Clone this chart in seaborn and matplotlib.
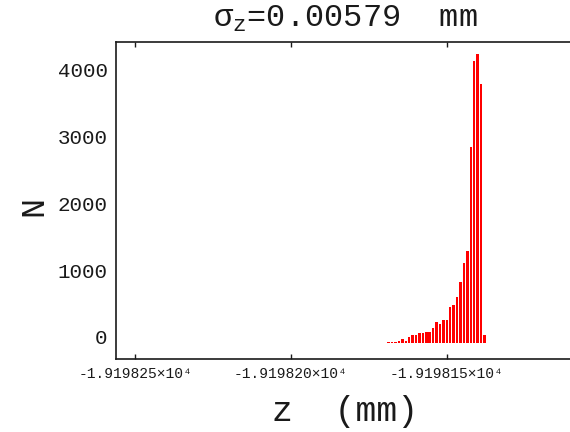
import numpy as np
import pandas as pd
import matplotlib
matplotlib.use("Agg")
import matplotlib.pyplot as plt
import matplotlib.transforms as mtransforms
import seaborn as sns

# Longitudinal bunch profile: bin centres (mm) and particle counts
z_centers = [
    -19198.1687, -19198.1676, -19198.1665, -19198.1654, -19198.1643,
    -19198.1632, -19198.1621, -19198.1610, -19198.1599, -19198.1588,
    -19198.1578, -19198.1567, -19198.1556, -19198.1545, -19198.1534,
    -19198.1523, -19198.1512, -19198.1501, -19198.1490, -19198.1479,
    -19198.1468, -19198.1457, -19198.1446, -19198.1435, -19198.1424,
    -19198.1413, -19198.1402, -19198.1391, -19198.1380,
]
counts = [
    20, 20, 20, 25, 55,
    35, 95, 115, 125, 145,
    145, 165, 165, 225, 315,
    285, 345, 340, 545, 565,
    685, 915, 1205, 1375, 2930,
    4220, 4330, 3880, 115,
]

x_tick_values = [-19198.25, -19198.20, -19198.15]
x_tick_labels = ["-1.919825×10⁴", "-1.919820×10⁴", "-1.919815×10⁴"]
y_tick_values = [0, 1000, 2000, 3000, 4000]
y_tick_labels = ["0", "1000", "2000", "3000", "4000"]

title_text = r"σ${}_{\mathrm{z}}$=0.00579  mm"
x_label = "z  (mm)"
y_label = "N"

df = pd.DataFrame({"z": z_centers, "n": counts})

sns.set_theme(style="white")
plt.rcParams["font.family"] = ["Liberation Mono", "DejaVu Sans Mono", "DejaVu Sans"]
plt.rcParams["mathtext.fontset"] = "custom"
plt.rcParams["mathtext.rm"] = "Liberation Mono"
plt.rcParams["mathtext.it"] = "Liberation Mono"

W, H = 570, 432
fig = plt.figure(figsize=(W / 100, H / 100), dpi=100)
# axes frame runs off the right side of the canvas
left_px, right_px, top_px, bottom_px = 116, 600, 42, 359
ax = fig.add_axes([left_px / W, 1 - bottom_px / H,
                   (right_px - left_px) / W, (bottom_px - top_px) / H])

bw = (z_centers[-1] - z_centers[0]) / (len(z_centers) - 1)
sns.histplot(data=df, x="z", weights="n", bins=len(z_centers),
             binrange=(z_centers[0] - bw / 2, z_centers[-1] + bw / 2),
             shrink=0.72, color="#ff0000", alpha=1.0, linewidth=0,
             edgecolor="none", ax=ax)

ax.set_xlim(-19198.25609, -19198.10096)
ax.set_ylim(-240, 4509)

ink = "#1a1a1a"
ax.set_xticks(x_tick_values)
ax.set_xticklabels(x_tick_labels, fontsize=10.5, color=ink)
ax.set_yticks(y_tick_values)
ax.set_yticklabels(y_tick_labels, fontsize=15, color=ink)
ax.tick_params(axis="x", direction="in", length=3.5, width=1.0,
               top=True, bottom=True, pad=6, colors=ink)
ax.tick_params(axis="y", length=0, pad=6)
shift = mtransforms.ScaledTranslation(0, 6 / 100, fig.dpi_scale_trans)
for lab in ax.get_yticklabels():
    lab.set_transform(lab.get_transform() + shift)

for side in ("left", "top", "bottom", "right"):
    ax.spines[side].set_color(ink)
    ax.spines[side].set_linewidth(1.2)

ax.set_xlabel("")
ax.set_ylabel(y_label, fontsize=24, color=ink, rotation=90,
              va="center", ha="center")
ax.yaxis.set_label_coords((34 - left_px) / (right_px - left_px),
                          (bottom_px - 206) / (bottom_px - top_px))

fig.text(345 / W, 1 - 411 / H, x_label, fontsize=25, color=ink,
         ha="center", va="center")
fig.text(345 / W, 1 - 19 / H, title_text, fontsize=23, color=ink,
         ha="center", va="center")

fig.savefig("out.png", dpi=100, facecolor="white")
